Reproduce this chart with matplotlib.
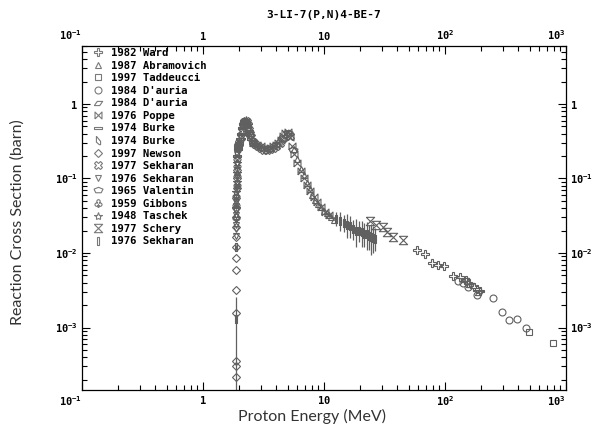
import numpy as np
import matplotlib
matplotlib.use("Agg")
import matplotlib.pyplot as plt
from matplotlib.lines import Line2D
from matplotlib.ticker import FixedLocator, LogLocator, FuncFormatter, NullFormatter

plt.rcParams['mathtext.fontset'] = 'custom'
plt.rcParams['mathtext.rm'] = 'DejaVu Sans Mono:bold'
plt.rcParams['mathtext.bf'] = 'DejaVu Sans Mono:bold'

# ---- data ----
ward_E = [58.7, 68, 78, 87, 98, 116, 133, 148, 155, 174, 185, 195]
ward_s = [0.0110, 0.0097, 0.0073, 0.0068, 0.0066, 0.0049, 0.0047, 0.0043, 0.0040, 0.0035, 0.0033, 0.0031]

abram_E = [5.6, 6.0, 6.4, 6.8, 7.2, 7.6, 8.0, 8.5, 9.0, 9.5, 10.0, 10.5, 11.0, 11.5, 12.0]
abram_s = [0.25, 0.18, 0.135, 0.11, 0.088, 0.072, 0.060, 0.052, 0.046, 0.041, 0.037, 0.034, 0.032, 0.030, 0.028]

tadd_E = [490, 775]
tadd_s = [0.00086, 0.00062]

daur1_E = [128, 140, 155, 185, 250, 295, 340, 390, 470]
daur1_s = [0.0042, 0.0039, 0.0035, 0.0027, 0.0025, 0.0016, 0.00128, 0.00132, 0.00098]

daur2_E = [145, 160, 190]
daur2_s = [0.0044, 0.0037, 0.0029]

poppe_E = [2.6, 2.8, 3.0, 3.2, 3.4, 3.6, 3.8, 4.0, 4.2, 4.4, 4.6, 4.8, 5.0, 5.2, 5.4,
           5.7, 6.0, 6.4, 6.8, 7.2, 7.7, 8.2, 8.8, 9.5, 10.2, 11.0]
poppe_s = [0.30, 0.28, 0.27, 0.26, 0.25, 0.26, 0.27, 0.28, 0.30, 0.33, 0.37, 0.41, 0.42, 0.36, 0.27,
           0.21, 0.16, 0.125, 0.10, 0.083, 0.068, 0.057, 0.048, 0.041, 0.036, 0.032]

burke1_E = [1.90, 1.93, 1.96, 2.00, 2.04, 2.08, 2.12, 2.16, 2.20, 2.24, 2.28, 2.32, 2.38, 2.44, 2.50, 2.58, 2.66, 2.75]
burke1_s = [0.20, 0.25, 0.27, 0.30, 0.34, 0.40, 0.47, 0.54, 0.59, 0.60, 0.57, 0.51, 0.44, 0.38, 0.34, 0.31, 0.29, 0.28]

burke2_E = [1.91, 1.95, 2.0, 2.07, 2.14, 2.21, 2.28, 2.36, 2.46, 2.58, 2.72, 2.9]
burke2_s = [0.22, 0.26, 0.29, 0.37, 0.49, 0.58, 0.58, 0.48, 0.37, 0.31, 0.28, 0.27]

newson_E = [1.8810, 1.8812, 1.8815, 1.8820, 1.8825, 1.8830, 1.8835, 1.884, 1.885, 1.886, 1.887, 1.888,
            1.890, 1.892, 1.895, 1.898]
newson_s = [0.00022, 0.0003, 0.00035, 0.00155, 0.0032, 0.0059, 0.0085, 0.012, 0.0164, 0.022, 0.03, 0.04,
            0.055, 0.075, 0.1, 0.13]

sek77_E = [1.95, 2.0, 2.05, 2.1, 2.15, 2.2, 2.25, 2.3, 2.35, 2.4, 2.45, 2.5, 2.6, 2.7, 2.85,
           3.0, 3.2, 3.4, 3.6, 3.8, 4.0, 4.3, 4.6, 4.9, 5.2]
sek77_s = [0.27, 0.30, 0.36, 0.44, 0.52, 0.58, 0.60, 0.57, 0.52, 0.45, 0.40, 0.36, 0.31, 0.29, 0.27,
           0.26, 0.24, 0.24, 0.25, 0.26, 0.27, 0.30, 0.35, 0.40, 0.37]

sek76_E = [1.882, 1.883, 1.884, 1.885, 1.886, 1.887, 1.888, 1.889, 1.890, 1.892, 1.894, 1.896, 1.898,
           1.902, 1.906, 1.912, 1.92, 1.93, 1.94, 1.96, 1.98]
sek76_s = [0.017, 0.021, 0.024, 0.028, 0.032, 0.037, 0.043, 0.049, 0.055, 0.068, 0.077, 0.085, 0.105,
           0.13, 0.155, 0.18, 0.21, 0.24, 0.26, 0.27, 0.28]

valentin_E = [3.0, 3.5, 4.0, 4.5, 5.0, 5.5]
valentin_s = [0.26, 0.25, 0.28, 0.34, 0.41, 0.24]

gibbons_E = [1.885, 1.888, 1.89, 1.895, 1.90, 1.91, 1.92, 1.95, 2.0, 2.1, 2.2, 2.3, 2.4]
gibbons_s = [0.03, 0.045, 0.06, 0.085, 0.11, 0.15, 0.19, 0.26, 0.29, 0.42, 0.57, 0.56, 0.44]

taschek_E = [1.887, 1.891, 1.895, 1.90, 1.91, 1.94, 1.98, 2.05, 2.15, 2.25, 2.35]
taschek_s = [0.04, 0.065, 0.09, 0.12, 0.16, 0.25, 0.28, 0.34, 0.50, 0.61, 0.52]

schery_E = [24, 27, 30.5, 33, 37, 45]
schery_s = [0.027, 0.024, 0.022, 0.019, 0.0165, 0.015]

sek76b_E = [1.8825, 1.884, 12.5, 13.5, 14.5, 15.5, 16.5, 17.5, 18.5, 19.5, 20.5, 21.5, 22.5, 23.5, 24.5, 25.5, 26.5]
sek76b_s = [0.0013, 0.012, 0.029, 0.027, 0.025, 0.024, 0.023, 0.021, 0.020, 0.020, 0.019, 0.018, 0.018,
            0.017, 0.0165, 0.016, 0.0155]
sek76b_lo = [0.00129, 0.0011, 0.006, 0.007, 0.006, 0.008, 0.007, 0.006, 0.008, 0.006, 0.007, 0.006, 0.007,
             0.006, 0.007, 0.006, 0.005]
sek76b_hi = [0.0013, 0.001, 0.007, 0.008, 0.007, 0.009, 0.008, 0.007, 0.009, 0.007, 0.008, 0.007, 0.008,
             0.007, 0.008, 0.007, 0.006]

# ---- marker shapes ----
paral = [(-1, -0.5), (0.3, -0.5), (1, 0.5), (-0.3, 0.5), (-1, -0.5)]
bowtie = [(-1, -1), (-1, 1), (1, -1), (1, 1), (-1, -1)]
hrect = [(-1, -0.3), (1, -0.3), (1, 0.3), (-1, 0.3), (-1, -0.3)]
burkesh = [(-0.5, 1), (-0.5, -0.4), (0.2, -1), (0.5, -1), (0.5, -0.2), (-0.5, 1)]
pent = [(-1, 0.3), (0, 0.7), (1, 0.3), (0.6, -0.5), (-0.6, -0.5), (-1, 0.3)]
hourglass = [(-1, 1), (1, 1), (-1, -1), (1, -1), (-1, 1)]
vrect = [(-0.3, -1), (0.3, -1), (0.3, 1), (-0.3, 1), (-0.3, -1)]

gry = '#606060'
series = [
    ("1982 Ward", ward_E, ward_s, 'P', 5.5),
    ("1987 Abramovich", abram_E, abram_s, '^', 5),
    ("1997 Taddeucci", tadd_E, tadd_s, 's', 5),
    ("1984 D'auria", daur1_E, daur1_s, 'o', 5),
    ("1984 D'auria", daur2_E, daur2_s, paral, 6),
    ("1976 Poppe", poppe_E, poppe_s, bowtie, 5),
    ("1974 Burke", burke1_E, burke1_s, hrect, 6),
    ("1974 Burke", burke2_E, burke2_s, burkesh, 6),
    ("1997 Newson", newson_E, newson_s, 'D', 4.5),
    ("1977 Sekharan", sek77_E, sek77_s, 'X', 5.5),
    ("1976 Sekharan", sek76_E, sek76_s, 'v', 5),
    ("1965 Valentin", valentin_E, valentin_s, pent, 6.5),
    ("1959 Gibbons", gibbons_E, gibbons_s, r'$\clubsuit$', 5.5),
    ("1948 Taschek", taschek_E, taschek_s, '*', 6),
    ("1977 Schery", schery_E, schery_s, hourglass, 6),
    ("1976 Sekharan", sek76b_E, sek76b_s, vrect, 6),
]

fig = plt.figure(figsize=(5.97, 4.32), dpi=100)
ax = fig.add_axes([82 / 597, 1 - 390 / 432, 484 / 597, 344 / 432])

handles = []
for lab, E, s, mk, ms in series:
    if lab == "1976 Sekharan" and mk is vrect:
        ax.errorbar(E, s, yerr=[sek76b_lo, sek76b_hi], fmt='none', ecolor=gry, elinewidth=0.9, capsize=0)
    ax.plot(E, s, linestyle='none', marker=mk, ms=ms, mfc='none', mec=gry, mew=0.8)
    handles.append(Line2D([], [], linestyle='none', marker=mk, ms=ms, mfc='none', mec='#7a7a7a', mew=0.8, label=lab))

ax.set_xscale('log')
ax.set_yscale('log')
ax.set_xlim(0.1, 1000)
ax.set_ylim(1.45e-4, 6.0)

lbl = {1e-3: r'$\mathbf{10^{-3}}$', 1e-2: r'$\mathbf{10^{-2}}$', 1e-1: r'$\mathbf{10^{-1}}$',
       1.0: r'$\mathbf{1}$', 10.0: r'$\mathbf{10}$', 100.0: r'$\mathbf{10^{2}}$', 1000.0: r'$\mathbf{10^{3}}$'}
def fmt(v, pos):
    for k in lbl:
        if abs(v - k) / k < 1e-6:
            return lbl[k]
    return ''

ax.xaxis.set_major_locator(FixedLocator([0.1, 1, 10, 100, 1000]))
ax.yaxis.set_major_locator(FixedLocator([1e-3, 1e-2, 1e-1, 1]))
for a in (ax.xaxis, ax.yaxis):
    a.set_minor_locator(LogLocator(base=10, subs=np.arange(2, 10), numticks=20))
    a.set_minor_formatter(NullFormatter())
    a.set_major_formatter(FuncFormatter(fmt))

ax.tick_params(which='both', direction='in', top=True, right=True, labeltop=True, labelright=True,
               width=0.8, labelsize=7.5, pad=3)
ax.tick_params(which='major', length=6)
ax.tick_params(which='minor', length=3.5)
for sp in ax.spines.values():
    sp.set_linewidth(0.9)

leg = ax.legend(handles=handles, loc='upper left', bbox_to_anchor=(0.006, 1.016), frameon=False,
                prop={'family': 'DejaVu Sans Mono', 'weight': 'bold', 'size': 7.7},
                handlelength=1.0, handletextpad=0.75, labelspacing=0.24, borderpad=0.2)

fig.text(324 / 597, 1 - 15 / 432, "3-LI-7(P,N)4-BE-7", ha='center', va='center',
         family='DejaVu Sans Mono', weight='bold', size=8)
fig.text(312 / 597, 1 - 416 / 432, "Proton Energy (MeV)", ha='center', va='center',
         family='Lato', size=11.5, color='#333333')
fig.text(18 / 597, 1 - 222 / 432, "Reaction Cross Section (barn)", ha='center', va='center',
         rotation=90, family='Lato', size=11.5, color='#333333')

# the corner x labels end at their tick, as in the original
fig.canvas.draw()
xt = ax.xaxis.get_major_ticks()
for i in (0, len(xt) - 1):
    xt[i].label1.set_horizontalalignment('right')
    xt[i].label2.set_horizontalalignment('right')

fig.savefig('out.png', dpi=100)
